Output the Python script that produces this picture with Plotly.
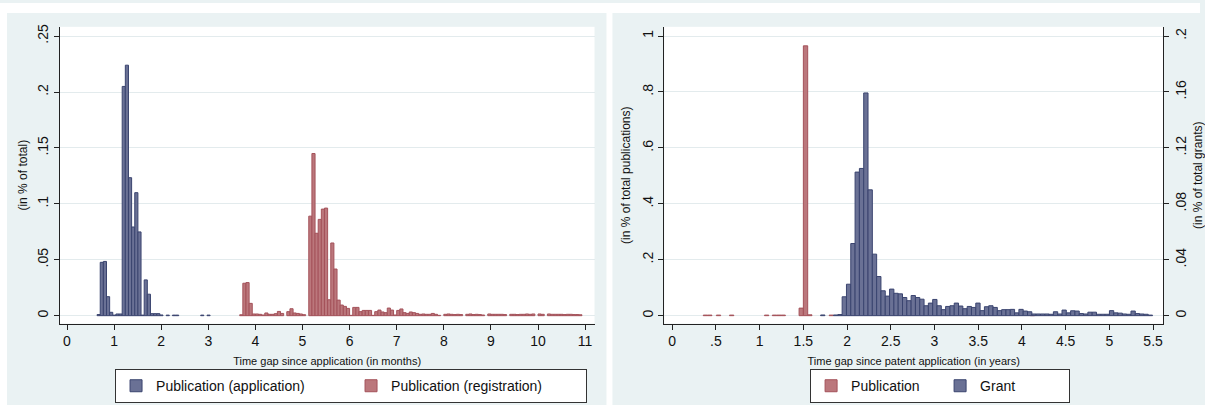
import plotly.graph_objects as go

# ---------------- data ----------------
# Left panel: histogram bins (width 1/15 month)
month_bin_width = 1 / 15
app_start = 0.672
app_values = [0.001, 0.0477, 0.0485, 0.017, 0.003, 0.0005, 0.0015, 0.0015, 0.205, 0.224,
              0.1234, 0.0793, 0.110, 0.0749, 0.0005, 0.032, 0.0192, 0.0018, 0.0018, 0.0018,
              0.0006, 0, 0.0005, 0, 0.0005, 0.0005, 0, 0, 0, 0, 0, 0, 0, 0.0005, 0, 0.0005]
reg_start = 3.70
reg_values = [0.0008, 0.029, 0.0296, 0.011, 0.0015, 0.0015, 0.0012, 0.0006, 0.0024, 0.0012,
              0.0012, 0.0018, 0.0038, 0.002, 0, 0.0036, 0.0062, 0.0024, 0.002, 0.0015,
              0.0009, 0, 0.089, 0.145, 0.0737, 0.0861, 0.0953, 0.0962, 0.0142, 0.065,
              0.0417, 0.0139, 0.0095, 0.0083, 0.0065, 0.0003, 0.0074, 0.0074, 0.0036, 0.0047,
              0.0047, 0.0047, 0.0003, 0.0036, 0.005, 0.0033, 0.0027, 0.0068, 0.005, 0.0006,
              0.0047, 0.006, 0.0027, 0.002, 0.0033, 0.0027, 0.002, 0.0012, 0.0015, 0.0012,
              0.0012, 0.002, 0.0012, 0.0003, 0, 0.0012, 0.0015, 0.0012, 0.001, 0.0012,
              0.001, 0, 0.0012, 0.0015, 0.001, 0.0012, 0.001, 0.0006, 0, 0.0015,
              0.0012, 0.0012, 0.0012, 0.0012, 0.001, 0, 0.0012, 0.0012, 0.001, 0.0012,
              0.0012, 0.0015, 0.0012, 0.0015, 0, 0.0015, 0.0012, 0, 0.0015, 0.0012,
              0.0012, 0.0012, 0.0012, 0.001, 0.0012, 0.0012, 0.001, 0.001, 0.0008]

# Right panel: bins of ~18 days (in years)
year_bin_width = 0.0493
pub_years = [0.38, 0.43, 0.53, 0.68, 1.08, 1.17, 1.22, 1.27, 1.476, 1.525, 1.574, 1.82, 4.12]
pub_values = [0.002, 0.002, 0.002, 0.002, 0.002, 0.002, 0.002, 0.002, 0.027, 0.965, 0.003, 0.002, 0.002]
grant_start = 1.722
grant_values = [0.0005, 0, 0, 0.0005, 0.0008, 0.0135, 0.0225, 0.0516, 0.1027, 0.1053,
                0.1593, 0.090, 0.044, 0.028, 0.0178, 0.014, 0.019, 0.016, 0.0156, 0.013,
                0.0107, 0.0144, 0.013, 0.0118, 0.0071, 0.009, 0.0116, 0.0071, 0.0043, 0.0066,
                0.0071, 0.009, 0.0069, 0.005, 0.0066, 0.0059, 0.009, 0.0036, 0.0064, 0.0071,
                0.0059, 0.0036, 0.0043, 0.0043, 0.0045, 0.002, 0.0045, 0.0033, 0.0028, 0.0012,
                0.0012, 0.0012, 0.0012, 0.001, 0.0028, 0.0012, 0.004, 0.002, 0.0035, 0.0033,
                0.0015, 0.0012, 0.0025, 0.0025, 0.001, 0.001, 0.001, 0.0036, 0.002, 0.0018,
                0.0012, 0.001, 0.0033, 0.0015, 0.0012, 0.001, 0.0004]

left_xticks = list(range(0, 12))
left_yticks = [0, 0.05, 0.1, 0.15, 0.2, 0.25]
left_yticklabels = ["0", ".05", ".1", ".15", ".2", ".25"]
right_xticks = [0, 0.5, 1, 1.5, 2, 2.5, 3, 3.5, 4, 4.5, 5, 5.5]
right_xticklabels = ["0", ".5", "1", "1.5", "2", "2.5", "3", "3.5", "4", "4.5", "5", "5.5"]
pub_yticks = [0, 0.2, 0.4, 0.6, 0.8, 1]
pub_yticklabels = ["0", ".2", ".4", ".6", ".8", "1"]
grant_yticks = [0, 0.04, 0.08, 0.12, 0.16, 0.2]
grant_yticklabels = ["0", ".04", ".08", ".12", ".16", ".2"]


def centers(start, width, n):
    return [start + width * i for i in range(n)]


def clean(vals):
    return [v if v > 0 else None for v in vals]


# ---------------- style ----------------
W, H = 1205, 405
FONT = "Liberation Sans, Arial, sans-serif"
PANEL_BG = "#eaf2f3"
GRID = "#e3ebed"
BLUE_FILL, BLUE_LINE = "#6a7195", "#3a446f"
RED_FILL, RED_LINE = "#bb777c", "#a4525a"

def px_x(p):
    return p / W

def px_y(p):
    return (H - p) / H

fig = go.Figure()

fig.add_trace(go.Bar(
    x=centers(app_start, month_bin_width, len(app_values)), y=clean(app_values),
    width=month_bin_width, name="Publication (application)",
    marker=dict(color=BLUE_FILL, line=dict(color=BLUE_LINE, width=1)),
    xaxis="x", yaxis="y", legend="legend"))
fig.add_trace(go.Bar(
    x=centers(reg_start, month_bin_width, len(reg_values)), y=clean(reg_values),
    width=month_bin_width, name="Publication (registration)",
    marker=dict(color=RED_FILL, line=dict(color=RED_LINE, width=1)),
    xaxis="x", yaxis="y", legend="legend"))
fig.add_trace(go.Bar(
    x=pub_years, y=clean(pub_values),
    width=year_bin_width, name="Publication",
    marker=dict(color=RED_FILL, line=dict(color=RED_LINE, width=1)),
    xaxis="x2", yaxis="y2", legend="legend2"))
fig.add_trace(go.Bar(
    x=centers(grant_start, year_bin_width, len(grant_values)), y=clean(grant_values),
    width=year_bin_width, name="Grant",
    marker=dict(color=BLUE_FILL, line=dict(color=BLUE_LINE, width=1)),
    xaxis="x2", yaxis="y3", legend="legend2"))

ydom = [px_y(323), px_y(24)]
axis_common = dict(showline=True, linecolor="#222", linewidth=1, ticks="outside",
                   ticklen=5, tickcolor="#222", zeroline=False,
                   tickfont=dict(family=FONT, size=14, color="#111"))

fig.update_layout(
    width=W, height=H,
    margin=dict(l=0, r=0, t=0, b=0),
    paper_bgcolor=PANEL_BG, plot_bgcolor="white",
    barmode="overlay", showlegend=True,
    font=dict(family=FONT, color="#111"),
    xaxis=dict(domain=[px_x(60), px_x(597)], range=[-0.154, 11.2], anchor="y",
               tickvals=left_xticks, showgrid=False,
               title=dict(text="Time gap since application (in months)",
                          font=dict(size=11), standoff=8),
               **axis_common),
    yaxis=dict(domain=ydom, range=[-0.0071, 0.2583], anchor="x",
               tickvals=left_yticks, ticktext=left_yticklabels, tickangle=-90,
               showgrid=True, gridcolor=GRID, gridwidth=1,
               title=dict(text="(in % of total)", font=dict(size=12), standoff=4),
               **axis_common),
    xaxis2=dict(domain=[px_x(667), px_x(1168)], range=[-0.091, 5.615], anchor="y2",
                tickvals=right_xticks, ticktext=right_xticklabels, showgrid=False,
                title=dict(text="Time gap since patent application (in years)",
                           font=dict(size=11), standoff=8),
                **axis_common),
    yaxis2=dict(domain=ydom, range=[-0.0284, 1.033], anchor="x2",
                tickvals=pub_yticks, ticktext=pub_yticklabels, tickangle=-90,
                showgrid=True, gridcolor=GRID, gridwidth=1,
                title=dict(text="(in % of total publications)", font=dict(size=12), standoff=6),
                **axis_common),
    yaxis3=dict(domain=ydom, range=[-0.00568, 0.2066], anchor="x2", overlaying="y2",
                side="right", tickvals=grant_yticks, ticktext=grant_yticklabels,
                tickangle=-90, showgrid=False,
                title=dict(text="(in % of total grants)", font=dict(size=12), standoff=8),
                **axis_common),
    legend=dict(orientation="h", x=px_x(352.5), xanchor="center", y=px_y(386),
                yanchor="middle", bgcolor="white", bordercolor="#333", borderwidth=1,
                font=dict(family=FONT, size=14, color="#111"), traceorder="normal",
                entrywidth=190),
    legend2=dict(orientation="h", x=px_x(944), xanchor="center", y=px_y(386),
                 yanchor="middle", bgcolor="white", bordercolor="#333", borderwidth=1,
                 font=dict(family=FONT, size=14, color="#111"), traceorder="normal",
                 entrywidth=84),
    shapes=[
        dict(type="rect", xref="paper", yref="paper", x0=0, x1=1, y0=px_y(10), y1=1,
             fillcolor="white", line=dict(width=0), layer="below"),
        dict(type="rect", xref="paper", yref="paper", x0=0, x1=px_x(7), y0=0, y1=1,
             fillcolor="white", line=dict(width=0), layer="below"),
        dict(type="rect", xref="paper", yref="paper", x0=px_x(609), x1=px_x(615), y0=0, y1=1,
             fillcolor="white", line=dict(width=0), layer="below"),
    ],
)

fig.write_html("out.html", config={"displayModeBar": False})
